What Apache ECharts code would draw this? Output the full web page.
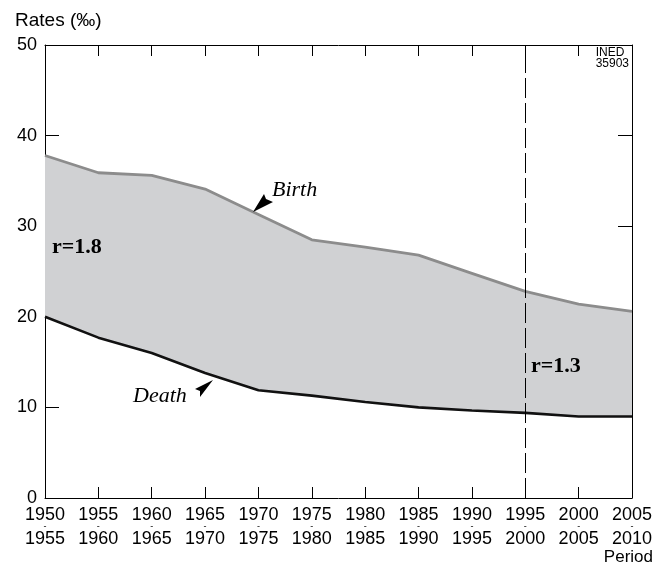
<!DOCTYPE html>
<html>
<head>
<meta charset="utf-8">
<script src="https://cdn.jsdelivr.net/npm/echarts@6/dist/echarts.min.js"></script>
<style>
  html, body { margin: 0; padding: 0; background: #fff; }
  #chart { width: 667px; height: 570px; }
</style>
</head>
<body>
<div id="chart"></div>
<script>
// periods on the x axis
const periods = ['1950-1955', '1955-1960', '1960-1965', '1965-1970', '1970-1975', '1975-1980',
  '1980-1985', '1985-1990', '1990-1995', '1995-2000', '2000-2005', '2005-2010'];
// rates per thousand
const birthRate = [37.8, 35.9, 35.6, 34.1, 31.3, 28.5, 27.7, 26.8, 24.8, 22.8, 21.4, 20.6];
const deathRate = [20.0, 17.7, 16.0, 13.8, 11.9, 11.3, 10.6, 10.0, 9.65, 9.4, 9.0, 9.0];
const yTicks = [0, 10, 20, 30, 40, 50];
const markPeriod = '1995-2000';

const gap = birthRate.map((b, i) => +(b - deathRate[i]).toFixed(2));

const sans = '"Liberation Sans", Arial, sans-serif';
const serif = '"Liberation Serif", "Times New Roman", serif';

const chart = echarts.init(document.getElementById('chart'));

const option = {
  animation: false,
  backgroundColor: '#fff',
  grid: { left: 45, right: 35, top: 45, bottom: 72 },
  xAxis: [
    {
      type: 'category',
      data: periods,
      position: 'bottom',
      boundaryGap: false,
      axisLine: { onZero: false, lineStyle: { color: '#000', width: 1 } },
      axisTick: { show: true, inside: true, length: 11, interval: 0, lineStyle: { color: '#000' } },
      axisLabel: {
        interval: 0,
        hideOverlap: false,
        margin: 7,
        color: '#000',
        formatter: (v) => {
          const p = v.split('-');
          return '{y|' + p[0] + '}\n{d|-}\n{y|' + p[1] + '}';
        },
        rich: {
          y: { fontFamily: sans, fontSize: 18, lineHeight: 20, color: '#000' },
          d: { fontFamily: sans, fontSize: 9, lineHeight: 4, color: '#000' }
        }
      },
      splitLine: { show: false }
    },
    {
      type: 'category',
      data: periods,
      position: 'top',
      boundaryGap: false,
      axisLine: { onZero: false, lineStyle: { color: '#000', width: 1 } },
      axisTick: { show: true, inside: true, length: 11, interval: 0, lineStyle: { color: '#000' } },
      axisLabel: { show: false },
      splitLine: { show: false }
    }
  ],
  yAxis: [
    {
      type: 'value',
      min: yTicks[0],
      max: yTicks[yTicks.length - 1],
      interval: 10,
      axisLine: { show: true, onZero: false, lineStyle: { color: '#000', width: 1 } },
      axisTick: { show: true, inside: true, length: 14, lineStyle: { color: '#000' } },
      axisLabel: { margin: 8, color: '#000', fontFamily: sans, fontSize: 18 },
      splitLine: { show: false }
    },
    {
      type: 'value',
      position: 'right',
      min: yTicks[0],
      max: yTicks[yTicks.length - 1],
      interval: 10,
      axisLine: { show: true, onZero: false, lineStyle: { color: '#000', width: 1 } },
      axisTick: { show: true, inside: true, length: 14, lineStyle: { color: '#000' } },
      axisLabel: { show: false },
      splitLine: { show: false }
    }
  ],
  series: [
    {
      name: 'base',
      type: 'line',
      stack: 'gap',
      data: deathRate,
      symbol: 'none',
      lineStyle: { width: 0 },
      silent: true,
      z: 1
    },
    {
      name: 'gap',
      type: 'line',
      stack: 'gap',
      data: gap,
      symbol: 'none',
      lineStyle: { width: 0 },
      areaStyle: { color: '#d0d1d3', opacity: 1 },
      silent: true,
      z: 1,
      markLine: {
        silent: true,
        symbol: ['none', 'none'],
        label: { show: false },
        lineStyle: { color: '#000', width: 1, type: [20, 5] },
        data: [{ xAxis: markPeriod }]
      }
    },
    {
      name: 'Birth',
      type: 'line',
      data: birthRate,
      symbol: 'none',
      lineStyle: { color: '#8c8c8c', width: 2.8 },
      z: 3
    },
    {
      name: 'Death',
      type: 'line',
      data: deathRate,
      symbol: 'none',
      lineStyle: { color: '#111', width: 2.6 },
      z: 3
    }
  ],
  graphic: [
    { type: 'text', left: 15, top: 11, z: 20,
      style: { text: 'Rates (‰)', font: '19px ' + sans, fill: '#000' } },
    { type: 'text', right: 14, top: 549, z: 20,
      style: { text: 'Period', font: '17px ' + sans, fill: '#000' } },
    { type: 'text', right: 38, top: 47, z: 20,
      style: { text: 'INED\n35903', font: '12px ' + sans, fill: '#000', align: 'right', lineHeight: 11 } },
    { type: 'text', x: 272, y: 179, z: 20,
      style: { text: 'Birth', font: 'italic 22px ' + serif, fill: '#000' } },
    { type: 'text', x: 133, y: 385, z: 20,
      style: { text: 'Death', font: 'italic 22px ' + serif, fill: '#000' } },
    { type: 'text', x: 52, y: 236, z: 20,
      style: { text: 'r=1.8', font: 'bold 22px ' + serif, fill: '#000' } },
    { type: 'text', x: 531, y: 355, z: 20,
      style: { text: 'r=1.3', font: 'bold 22px ' + serif, fill: '#000' } },
    { type: 'polygon', z: 20,
      shape: { points: [[253, 212], [264, 194], [266, 199], [273, 202]] },
      style: { fill: '#000' } },
    { type: 'polygon', z: 20,
      shape: { points: [[213, 380], [195, 389], [200, 391], [200, 397]] },
      style: { fill: '#000' } }
  ]
};

chart.setOption(option);
</script>
</body>
</html>
